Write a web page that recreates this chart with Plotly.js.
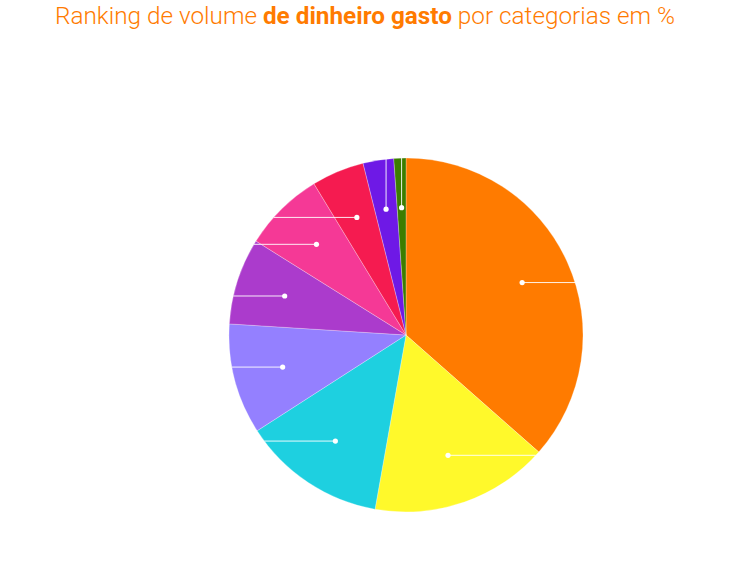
<!DOCTYPE html>
<html>
<head>
<meta charset="utf-8">
<script src="https://cdn.plot.ly/plotly-3.0.1.min.js"></script>
<style>html,body{margin:0;padding:0;background:#fff;}#chart{width:730px;height:583px;}</style>
</head>
<body>
<div id="chart"></div>
<script>
// Data (category names are not legible in the reference: labels are drawn in white)
const categories = ["Categoria 1","Categoria 2","Categoria 3","Categoria 4","Categoria 5","Categoria 6","Categoria 7","Categoria 8","Categoria 9"];
const values = [36.5, 16.3, 13.1, 10.1, 7.9, 7.4, 4.8, 2.8, 1.1];
const colors = ["#FF7B00","#FFF92B","#1ED0E0","#9480FF","#AB3BCC","#F53996","#F51B50","#6E19E6","#3C7D00"];

const W = 730, H = 583;
const cx = 406, cy = 335, R = 177;
const domX = [(cx - R) / W, (cx + R) / W];
const domY = [(H - cy - R) / H, (H - cy + R) / H];

// Leader lines derived from slice mid-angles
const total = values.reduce((a, b) => a + b, 0);
const shapes = [];
let cum = 0;
values.forEach(v => {
  const mid = (cum + v / 2) / total * 2 * Math.PI;
  cum += v;
  const s = Math.sin(mid), c = Math.cos(mid);
  const r = 0.72 * R;
  const px = cx + r * s, py = cy - r * c;
  let tx, ty;
  if (Math.abs(s) < 0.3) {
    tx = px; ty = cy - Math.sqrt(R * R - (px - cx) * (px - cx));
  } else {
    ty = py; tx = cx + Math.sign(s) * Math.sqrt(R * R - (py - cy) * (py - cy));
  }
  const X = x => x / W, Y = y => 1 - y / H;
  shapes.push({type: 'line', xref: 'paper', yref: 'paper', x0: X(px), y0: Y(py), x1: X(tx), y1: Y(ty),
    line: {color: 'rgba(255,255,255,0.9)', width: 1}});
  const d = 2.6;
  shapes.push({type: 'circle', xref: 'paper', yref: 'paper', x0: X(px - d), x1: X(px + d), y0: Y(py - d), y1: Y(py + d),
    fillcolor: '#ffffff', line: {width: 0}});
});

const trace = {
  type: 'pie',
  labels: categories,
  values: values,
  sort: false,
  direction: 'clockwise',
  rotation: 0,
  textinfo: 'none',
  hoverinfo: 'label+percent',
  marker: {colors: colors, line: {color: 'rgba(255,255,255,0.45)', width: 0.6}},
  domain: {x: domX, y: domY}
};

const layout = {
  width: W, height: H, autosize: false,
  margin: {l: 0, r: 0, t: 0, b: 0},
  paper_bgcolor: '#ffffff',
  showlegend: false,
  title: {
    text: 'Ranking de volume <b>de dinheiro gasto</b> por categorias em %',
    font: {family: 'Roboto, Liberation Sans, sans-serif', size: 24.3, color: '#FF7B00', weight: 300},
    x: 0.5, xanchor: 'center', xref: 'paper',
    y: 1 - 15 / 583, yanchor: 'middle', yref: 'container'
  },
  shapes: shapes
};

Plotly.newPlot('chart', [trace], layout, {displayModeBar: false});
</script>
</body>
</html>
